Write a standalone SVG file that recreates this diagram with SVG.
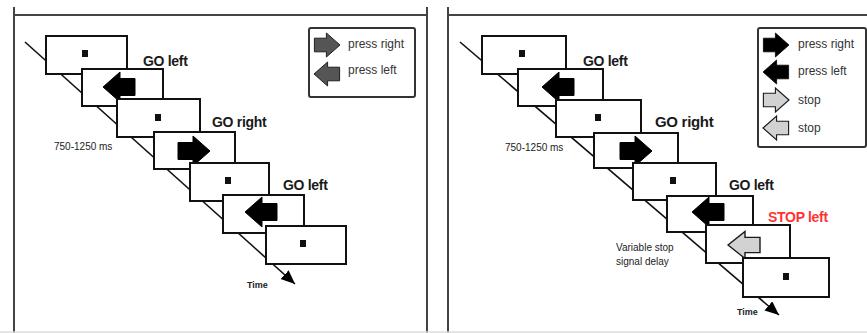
<svg xmlns="http://www.w3.org/2000/svg" xmlns:xlink="http://www.w3.org/1999/xlink" width="867" height="333" viewBox="0 0 867 333">
<style>
.frame{stroke:#444;stroke-width:2;fill:none}
.box{fill:#fff;stroke:#111;stroke-width:2}
.fix{fill:#111}
.blk{fill:#000;stroke:#000;stroke-width:1}
.gry{fill:#555;stroke:#1a1a1a;stroke-width:1.2}
.lgt{fill:#d2d2d2;stroke:#1a1a1a;stroke-width:1.4}
.leg{fill:#fff;stroke:#333;stroke-width:2}
.go{font-family:"Liberation Sans",Arial,sans-serif;font-weight:bold;font-size:14px;fill:#1a1a1a;letter-spacing:-0.3px}
.stop{font-family:"Liberation Sans",Arial,sans-serif;font-weight:bold;font-size:14px;fill:#ff3333;letter-spacing:-0.3px}
.lt{font-family:"Liberation Sans",Arial,sans-serif;font-size:12px;fill:#333}
.sm{font-family:"Liberation Sans",Arial,sans-serif;font-size:10px;fill:#222}
.tm{font-family:"Liberation Sans",Arial,sans-serif;font-size:9px;font-weight:bold;fill:#222}
.tl{stroke:#111;stroke-width:1.6;fill:none}
</style>
<defs>
<path id="arr" d="M0,0 L-17,-15 L-17,-8.5 L-32,-8.5 L-32,8.5 L-17,8.5 L-17,15 Z"/>
<marker id="ah" markerUnits="userSpaceOnUse" markerWidth="16" markerHeight="14" refX="14" refY="6" orient="auto">
<path d="M0,0 L14,6 L0,12 Z" fill="#000"/>
</marker>
</defs>
<rect x="0" y="0" width="867" height="333" fill="#fff"/>
<g id="frames">
<line class="frame" x1="14" y1="7" x2="14" y2="333"/>
<line class="frame" x1="427" y1="7" x2="427" y2="333"/>
<line class="frame" x1="14" y1="15" x2="427" y2="15"/>
<line class="frame" x1="448" y1="7" x2="448" y2="333"/>
<line class="frame" x1="448" y1="15" x2="867" y2="15"/>
<line x1="0" y1="332" x2="867" y2="332" stroke="#ddd" stroke-width="1.5"/>
</g>
<g id="connectors">
<line class="tl" x1="25" y1="42" x2="295" y2="284" marker-end="url(#ah)"/>
<line class="tl" x1="460" y1="42" x2="779" y2="315" marker-end="url(#ah)"/>
</g>
<!-- Left panel -->
<g id="L1"><rect class="box" x="46" y="36" width="81" height="38"/><rect class="fix" x="82" y="50" width="6" height="7"/></g>
<g id="L2"><rect class="box" x="82" y="69" width="81" height="37"/><use xlink:href="#arr" class="blk" transform="translate(103,87) scale(-1,1)"/></g>
<g id="L3"><rect class="box" x="117" y="99" width="83" height="38"/><rect class="fix" x="155" y="114" width="6" height="7"/></g>
<g id="L4"><rect class="box" x="154" y="132" width="81" height="37"/><use xlink:href="#arr" class="blk" transform="translate(210,151)"/></g>
<g id="L5"><rect class="box" x="190" y="163" width="79" height="38"/><rect class="fix" x="225" y="177" width="6" height="7"/></g>
<g id="L6"><rect class="box" x="223" y="195" width="81" height="38"/><use xlink:href="#arr" class="blk" transform="translate(245,212) scale(-1,1)"/></g>
<g id="L7"><rect class="box" x="266" y="226" width="80" height="38"/><rect class="fix" x="300" y="240" width="6" height="7"/></g>
<g id="L-labels">
<text class="go" x="143" y="66">GO left</text>
<text class="go" x="212" y="127">GO right</text>
<text class="go" x="283" y="190">GO left</text>
<text class="sm" x="54" y="150">750-1250 ms</text>
<text class="tm" x="247" y="288">Time</text>
</g>
<g id="L-legend">
<rect class="leg" x="309" y="28" width="106" height="69" rx="2"/>
<use xlink:href="#arr" class="gry" transform="translate(340,45) scale(0.8)"/>
<use xlink:href="#arr" class="gry" transform="translate(314,74) scale(-0.8,0.8)"/>
<text class="lt" x="348" y="48">press right</text>
<text class="lt" x="348" y="74">press left</text>
</g>
<!-- Right panel -->
<g id="R1"><rect class="box" x="482" y="36" width="84" height="38"/><rect class="fix" x="519" y="50" width="6" height="7"/></g>
<g id="R2"><rect class="box" x="518" y="69" width="85" height="37"/><use xlink:href="#arr" class="blk" transform="translate(542,87) scale(-1,1)"/></g>
<g id="R3"><rect class="box" x="556" y="100" width="85" height="37"/><rect class="fix" x="595" y="114" width="6" height="7"/></g>
<g id="R4"><rect class="box" x="594" y="133" width="84" height="35"/><use xlink:href="#arr" class="blk" transform="translate(652,151)"/></g>
<g id="R5"><rect class="box" x="633" y="163" width="83" height="37"/><rect class="fix" x="670" y="177" width="6" height="7"/></g>
<g id="R6"><rect class="box" x="667" y="196" width="86" height="36"/><use xlink:href="#arr" class="blk" transform="translate(692,212) scale(-1,1)"/></g>
<g id="R7"><rect class="box" x="706" y="225" width="84" height="38"/><use xlink:href="#arr" class="lgt" transform="translate(728,245) scale(-1,0.9)"/></g>
<g id="R8"><rect class="box" x="743" y="258" width="86" height="39"/><rect class="fix" x="783" y="273" width="6" height="7"/></g>
<g id="R-labels">
<text class="go" x="583" y="66">GO left</text>
<text class="go" x="655" y="127" style="font-size:15px">GO right</text>
<text class="go" x="729" y="190">GO left</text>
<text class="stop" x="768" y="222">STOP left</text>
<text class="sm" x="505" y="151">750-1250 ms</text>
<text class="sm" x="616" y="251">Variable stop</text>
<text class="sm" x="616" y="265">signal delay</text>
<text class="tm" x="737" y="315">Time</text>
</g>
<g id="R-legend">
<rect class="leg" x="758" y="28" width="108" height="119" rx="2"/>
<use xlink:href="#arr" class="blk" transform="translate(789,45) scale(0.8)"/>
<use xlink:href="#arr" class="blk" transform="translate(763,72) scale(-0.8,0.8)"/>
<use xlink:href="#arr" class="lgt" transform="translate(789,100) scale(0.8)"/>
<use xlink:href="#arr" class="lgt" transform="translate(763,128) scale(-0.8,0.8)"/>
<text class="lt" x="798" y="48">press right</text>
<text class="lt" x="798" y="75">press left</text>
<text class="lt" x="798" y="104">stop</text>
<text class="lt" x="798" y="132">stop</text>
</g>
</svg>
